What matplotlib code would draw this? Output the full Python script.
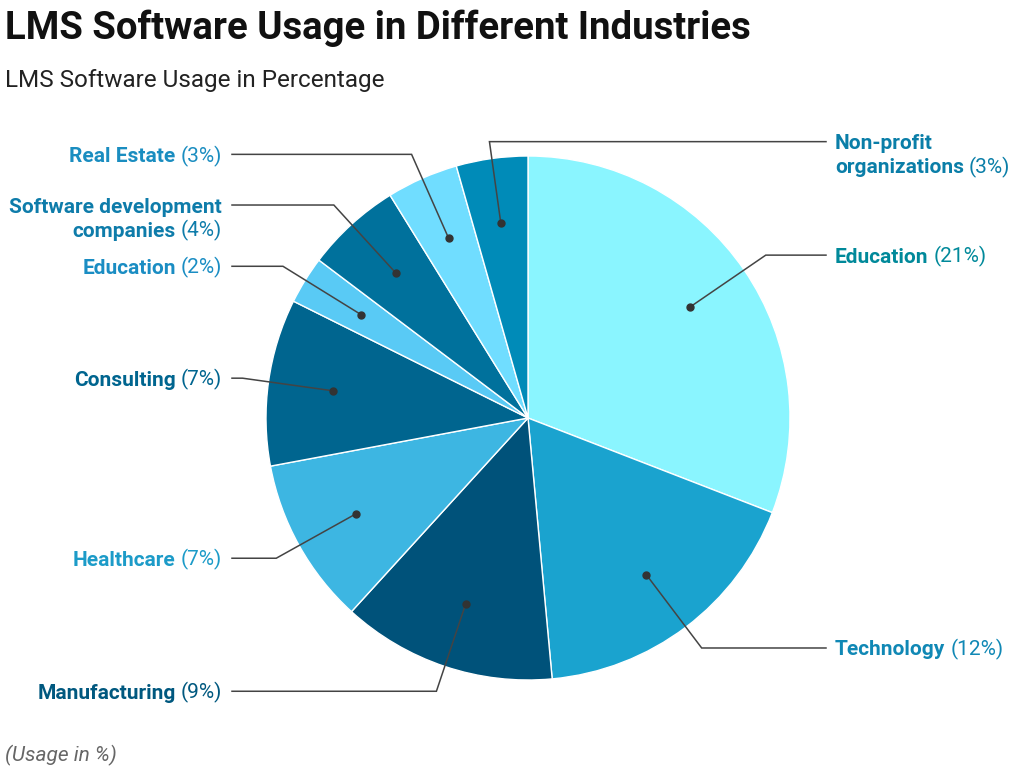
import numpy as np
import matplotlib
matplotlib.use("Agg")
import matplotlib.pyplot as plt

# ---- data ----
names = ["Education", "Technology", "Manufacturing", "Healthcare", "Consulting",
         "Education", "Software development\ncompanies", "Real Estate",
         "Non-profit\norganizations"]
values = [21, 12, 9, 7, 7, 2, 4, 3, 3]
slice_colors = ["#8AF5FF", "#1AA3CF", "#00527A", "#3DB6E2", "#00658F",
                "#59CAF5", "#00719C", "#70DDFF", "#008BB8"]
label_colors = ["#00899A", "#1088B5", "#00587F", "#1C9BC8", "#00658F",
                "#1A8DC3", "#0E7CAA", "#1A8DC0", "#0A7EA8"]

title = "LMS Software Usage in Different Industries"
subtitle = "LMS Software Usage in Percentage"
footer = "(Usage in %)"

# ---- layout (pixels) ----
W, H = 1027, 775
CX, CY_PX, R = 528, 418, 262
FS = 15.0
LINE_H = 24
label_side = ["R", "R", "L", "L", "L", "L", "L", "L", "R"]
elbow_r = [1.1, 1.1, 1.1, 1.1, 1.1, 1.1, 1.1, 1.1, 1.065]

fig = plt.figure(figsize=(W / 100, H / 100), dpi=100)
ax = fig.add_axes([0, 0, 1, 1])
cy = H - CY_PX

ax.pie(values, colors=slice_colors, startangle=90, counterclock=False,
       center=(CX, cy), radius=R,
       wedgeprops=dict(edgecolor="white", linewidth=1.0))
ax.set_xlim(0, W)
ax.set_ylim(0, H)
ax.set_aspect("equal")
ax.axis("off")

renderer = fig.canvas.get_renderer()
total = sum(values)
cum = 0.0
fs_px = FS * 100 / 72
for name, v, lc, side, er in zip(names, values, label_colors, label_side, elbow_r):
    mid = (cum + v / 2) / total * 2 * np.pi
    cum += v
    sx, sy = np.sin(mid), np.cos(mid)
    dx, dy = CX + 0.75 * R * sx, cy + 0.75 * R * sy
    ex, ey = CX + er * R * sx, cy + er * R * sy
    right = side == "R"
    endx = 826 if right else 232
    ax.plot([dx, ex, endx], [dy, ey, ey], color="#444444", lw=1.1,
            solid_joinstyle="miter", zorder=3)
    ax.plot([dx], [dy], "o", color="#333333", ms=5, zorder=4)

    lines = name.split("\n")
    pct = f"({v}%)"
    base = ey - 0.36 * fs_px
    for i, ln in enumerate(lines):
        by = base - i * LINE_H
        last = i == len(lines) - 1
        if right:
            x0 = 835
            t = ax.text(x0, by, ln, fontsize=FS, fontweight="bold", color=lc,
                        family="Roboto", ha="left", va="baseline")
            if last:
                w = t.get_window_extent(renderer).width
                ax.text(x0 + w + 5, by, pct, fontsize=FS, color=lc,
                        family="Roboto", ha="left", va="baseline")
        else:
            x0 = 222
            if last:
                tp = ax.text(x0, by, pct, fontsize=FS, color=lc,
                             family="Roboto", ha="right", va="baseline")
                w = tp.get_window_extent(renderer).width
                ax.text(x0 - w - 5, by, ln, fontsize=FS, fontweight="bold",
                        color=lc, family="Roboto", ha="right", va="baseline")
            else:
                ax.text(x0, by, ln, fontsize=FS, fontweight="bold", color=lc,
                        family="Roboto", ha="right", va="baseline")

ax.text(5, H - 39, title, fontsize=27.6, fontweight="bold", color="#111111",
        family="Roboto", ha="left", va="baseline")
ax.text(5, H - 87, subtitle, fontsize=17.5, color="#222222",
        family="Roboto", ha="left", va="baseline")
ax.text(5, H - 761, footer, fontsize=15, style="italic", color="#666666",
        family="Roboto", ha="left", va="baseline")

fig.savefig("out.png", dpi=100, facecolor="white")
